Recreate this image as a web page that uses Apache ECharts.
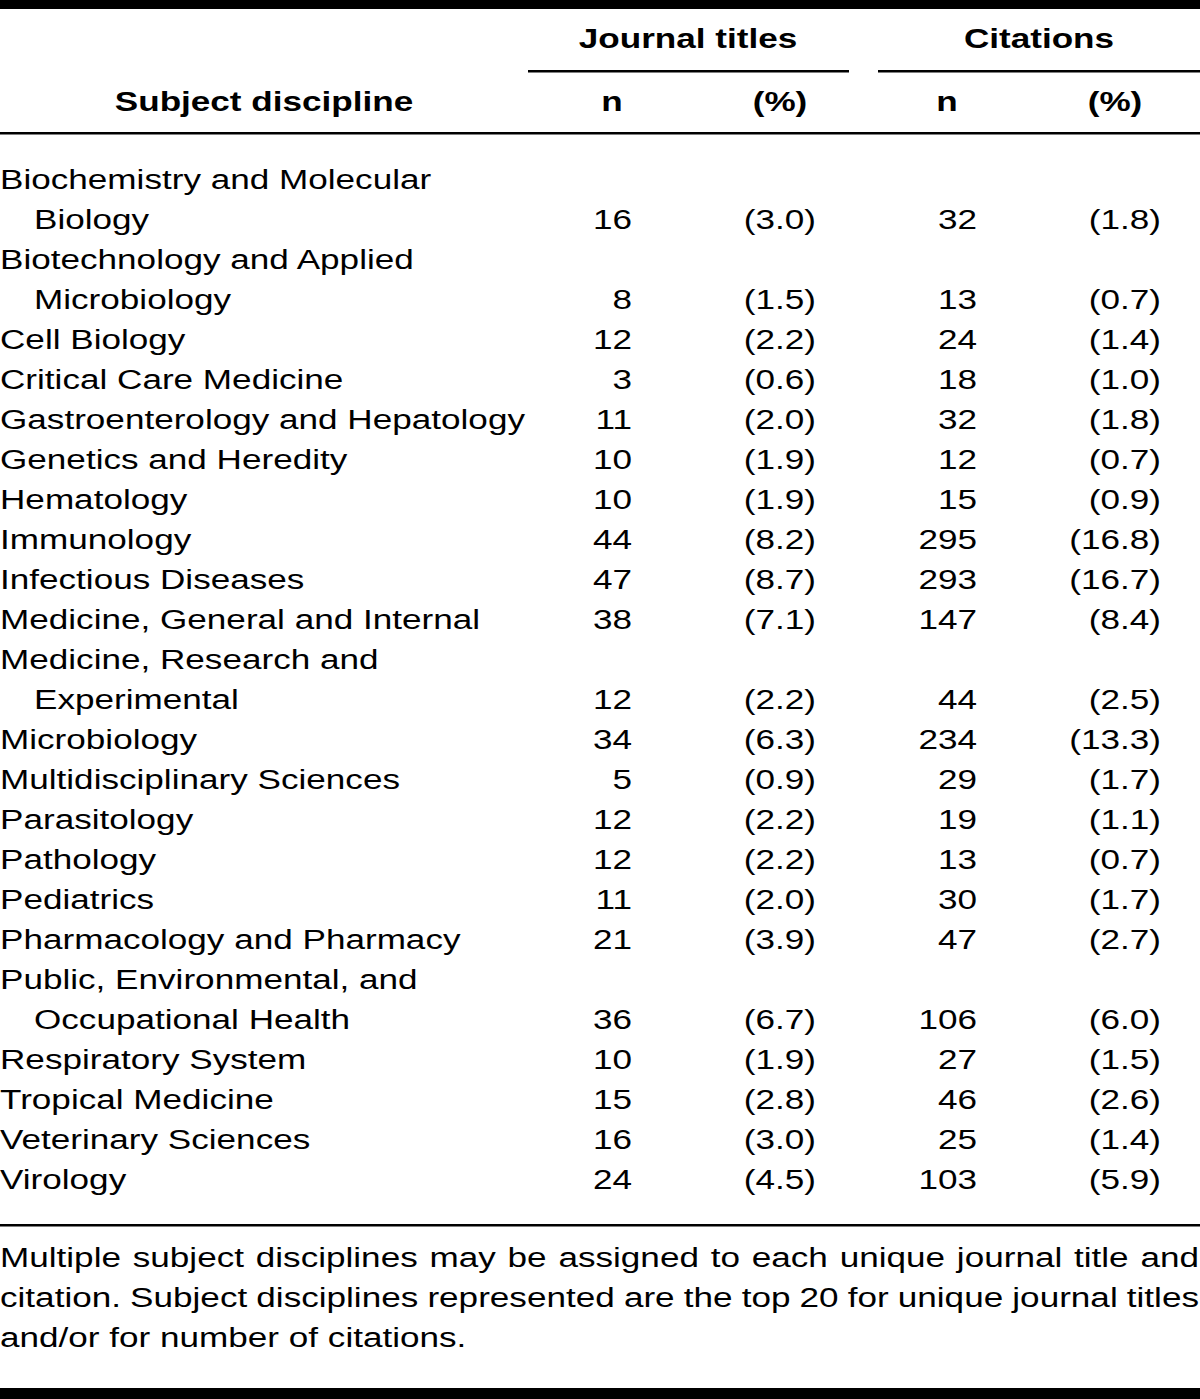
<!DOCTYPE html>
<html>
<head>
<meta charset="utf-8">
<script src="https://cdn.jsdelivr.net/npm/echarts@6/dist/echarts.min.js"></script>
<style>
  html, body { margin: 0; padding: 0; background: #fff; }
  #chart { width: 1200px; height: 1399px; }
</style>
</head>
<body>
<div id="chart"></div>
<script>
// ---------- data ----------
const disciplines = [
  'Biochemistry and Molecular\nBiology',
  'Biotechnology and Applied\nMicrobiology',
  'Cell Biology',
  'Critical Care Medicine',
  'Gastroenterology and Hepatology',
  'Genetics and Heredity',
  'Hematology',
  'Immunology',
  'Infectious Diseases',
  'Medicine, General and Internal',
  'Medicine, Research and\nExperimental',
  'Microbiology',
  'Multidisciplinary Sciences',
  'Parasitology',
  'Pathology',
  'Pediatrics',
  'Pharmacology and Pharmacy',
  'Public, Environmental, and\nOccupational Health',
  'Respiratory System',
  'Tropical Medicine',
  'Veterinary Sciences',
  'Virology'
];
const journalN   = [16, 8, 12, 3, 11, 10, 10, 44, 47, 38, 12, 34, 5, 12, 12, 11, 21, 36, 10, 15, 16, 24];
const journalPct = [3.0, 1.5, 2.2, 0.6, 2.0, 1.9, 1.9, 8.2, 8.7, 7.1, 2.2, 6.3, 0.9, 2.2, 2.2, 2.0, 3.9, 6.7, 1.9, 2.8, 3.0, 4.5];
const citationN  = [32, 13, 24, 18, 32, 12, 15, 295, 293, 147, 44, 234, 29, 19, 13, 30, 47, 106, 27, 46, 25, 103];
const citationPct= [1.8, 0.7, 1.4, 1.0, 1.8, 0.7, 0.9, 16.8, 16.7, 8.4, 2.5, 13.3, 1.7, 1.1, 0.7, 1.7, 2.7, 6.0, 1.5, 2.6, 1.4, 5.9];
const groupHeaders  = ['Journal titles', 'Citations'];
const columnHeaders = ['Subject discipline', 'n', '(%)', 'n', '(%)'];
const footnoteLines = [
  'Multiple subject disciplines may be assigned to each unique journal title and',
  'citation. Subject disciplines represented are the top 20 for unique journal titles',
  'and/or for number of citations.'
];

// ---------- layout ----------
const FONT = '"Liberation Sans", Arial, Helvetica, sans-serif';
const FS = 28;
const SX = 1.254; // horizontal stretch of the reference typography
const INDENT = 34;
const colAnchor = [0, 632, 816, 977, 1161];

// build display lines and cells
const cells = [];   // {x, line, text, align}
const lineNames = [];
let line = 0;
disciplines.forEach((d, i) => {
  const parts = d.split('\n');
  parts.forEach((p, k) => {
    cells.push({ x: colAnchor[0] + (k > 0 ? INDENT : 0), line, text: p, align: 'left' });
    if (k === parts.length - 1) {
      cells.push({ x: colAnchor[1], line, text: String(journalN[i]), align: 'right' });
      cells.push({ x: colAnchor[2], line, text: '(' + journalPct[i].toFixed(1) + ')', align: 'right' });
      cells.push({ x: colAnchor[3], line, text: String(citationN[i]), align: 'right' });
      cells.push({ x: colAnchor[4], line, text: '(' + citationPct[i].toFixed(1) + ')', align: 'right' });
    }
    lineNames.push('L' + line);
    line++;
  });
});

const ROW_H = 40;
const FIRST_Y = 179.5;
const gridTop = FIRST_Y - ROW_H / 2;

// measure helper for justified footnote
const mctx = document.createElement('canvas').getContext('2d');
mctx.font = FS + 'px ' + FONT;
function wordWidth(w) { return mctx.measureText(w).width * SX; }

const graphics = [];
function rect(x, y, w, h) {
  graphics.push({ type: 'rect', shape: { x, y, width: w, height: h }, style: { fill: '#000' }, silent: true });
}
function text(t, x, y, align, bold) {
  graphics.push({
    type: 'text', x, y, scaleX: SX, silent: true,
    style: { text: t, fill: '#000', font: (bold ? 'bold ' : '') + FS + 'px ' + FONT,
             textAlign: align, textVerticalAlign: 'middle' }
  });
}
// rules
rect(0, 0, 1200, 9);
rect(528, 70, 321, 2.5);
rect(878, 70, 322, 2.5);
rect(0, 132, 1200, 2.5);
rect(0, 1224, 1200, 2.5);
rect(0, 1388, 1200, 11);
// headers
text(groupHeaders[0], 688, 38.5, 'center', true);
text(groupHeaders[1], 1039, 38.5, 'center', true);
const headerCenters = [264, 612, 780, 947, 1115];
columnHeaders.forEach((h, i) => text(h, headerCenters[i], 101.5, 'center', true));
// footnote (first lines justified)
footnoteLines.forEach((ln, i) => {
  const y = 1257 + i * 40;
  if (i === footnoteLines.length - 1) {
    text(ln, 0, y, 'left', false);
    return;
  }
  const words = ln.split(' ');
  const widths = words.map(wordWidth);
  const total = widths.reduce((a, b) => a + b, 0);
  const gap = (1199 - total) / (words.length - 1);
  let x = 0;
  words.forEach((w, k) => {
    text(w, x, y, 'left', false);
    x += widths[k] + gap;
  });
});

const chart = echarts.init(document.getElementById('chart'), null, { renderer: 'svg' });
chart.setOption({
  animation: false,
  backgroundColor: '#fff',
  grid: { left: 0, right: 0, top: gridTop, height: ROW_H * lineNames.length, containLabel: false },
  xAxis: { type: 'value', min: 0, max: 1200, show: false },
  yAxis: { type: 'category', data: lineNames, inverse: true, show: false },
  series: [{
    type: 'custom',
    coordinateSystem: 'cartesian2d',
    data: cells.map(c => [c.x, c.line]),
    encode: { x: 0, y: 1 },
    renderItem: function (params, api) {
      const c = cells[params.dataIndex];
      const p = api.coord([api.value(0), api.value(1)]);
      return {
        type: 'text', x: p[0], y: p[1], scaleX: SX, silent: true,
        style: { text: c.text, fill: '#000', font: FS + 'px ' + FONT,
                 textAlign: c.align, textVerticalAlign: 'middle' }
      };
    }
  }],
  graphic: graphics
});
</script>
</body>
</html>
